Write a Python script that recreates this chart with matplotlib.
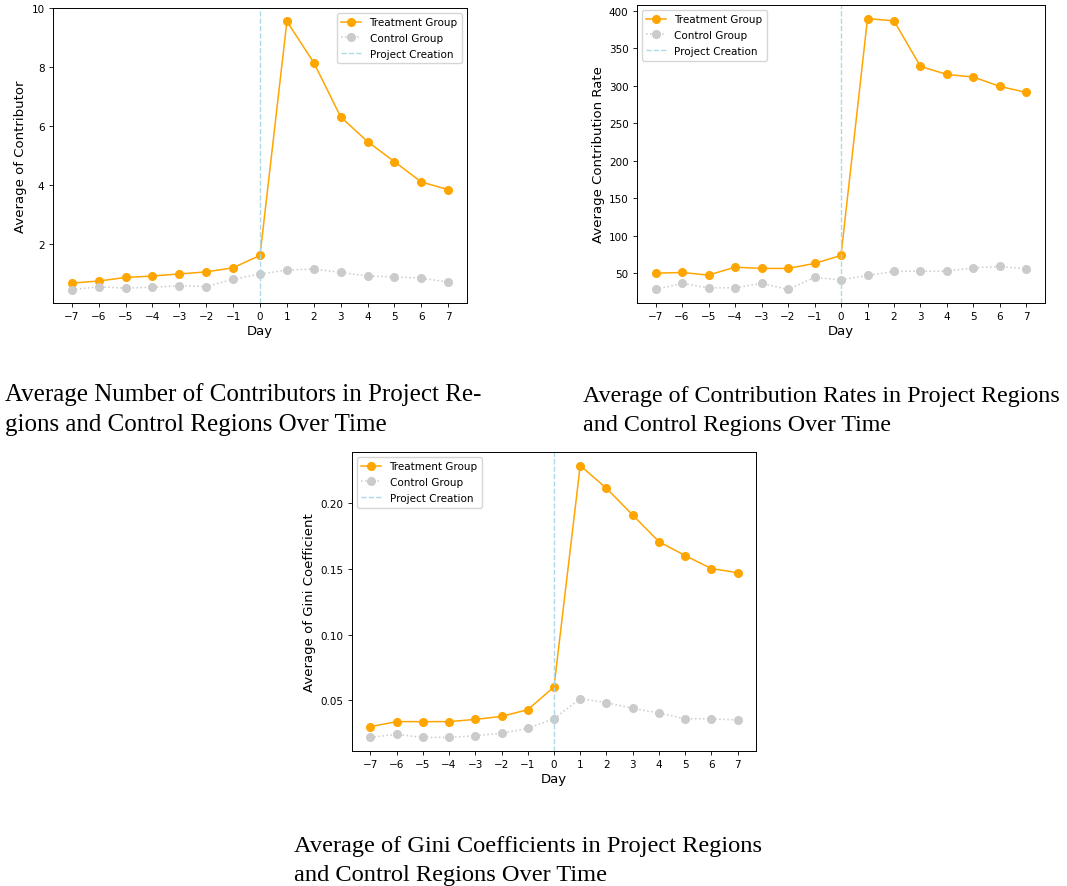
import matplotlib
matplotlib.use('Agg')
import matplotlib.pyplot as plt
import numpy as np

days = list(range(-7, 8))

# average number of contributors
contrib_treat = [0.68, 0.75, 0.87, 0.92, 0.99, 1.06, 1.20, 1.62, 9.56, 8.16, 6.32, 5.48, 4.80, 4.11, 3.85]
contrib_ctrl = [0.46, 0.55, 0.51, 0.54, 0.59, 0.56, 0.81, 0.99, 1.12, 1.16, 1.04, 0.92, 0.89, 0.85, 0.71]

# average contribution rate
rate_treat = [50.4, 51.3, 47.8, 58.4, 56.7, 56.7, 63.3, 74.0, 389.8, 386.7, 326.0, 315.3, 311.8, 299.3, 291.3]
rate_ctrl = [28.7, 36.7, 30.9, 30.9, 36.7, 28.7, 44.7, 41.6, 47.3, 52.7, 53.1, 53.1, 57.5, 59.3, 56.2]

# average gini coefficient
gini_treat = [0.0300, 0.0338, 0.0338, 0.0338, 0.0355, 0.0378, 0.0429, 0.0602, 0.2287, 0.2114, 0.1911, 0.1708, 0.1602, 0.1503, 0.1472]
gini_ctrl = [0.0218, 0.0241, 0.0218, 0.0218, 0.0231, 0.0249, 0.0287, 0.0360, 0.0513, 0.0482, 0.0439, 0.0404, 0.0360, 0.0360, 0.0350]

captions = [
    "Average Number of Contributors in Project Re-\ngions and Control Regions Over Time",
    "Average of Contribution Rates in Project Regions\nand Control Regions Over Time",
    "Average of Gini Coefficients in Project Regions\nand Control Regions Over Time",
]


def draw(ax, treat, ctrl, ylabel, legend_loc):
    ax.plot(days, treat, marker='o', color='orange', linewidth=1.1, markersize=5.5, label='Treatment Group')
    ax.plot(days, ctrl, marker='o', color='#cbcbcb', linestyle=':', linewidth=1.1, markersize=5.5, label='Control Group')
    ax.axvline(0, color='lightblue', linestyle='--', linewidth=1.0, label='Project Creation')
    ax.set_xticks(days)
    ax.tick_params(labelsize=7.5, length=2.6, width=0.6)
    ax.set_xlabel('Day', fontsize=9.5, labelpad=2)
    ax.set_ylabel(ylabel, fontsize=9.5, labelpad=3)
    for s in ax.spines.values():
        s.set_linewidth(0.7)
    ax.legend(loc=legend_loc, fontsize=7.5, framealpha=0.8, borderpad=0.45, labelspacing=0.55,
              handlelength=1.9, borderaxespad=0.45)


fig = plt.figure(figsize=(10.67, 8.87), dpi=100)
ax1 = fig.add_axes([0.0497, 0.6573, 0.388, 0.3326])
ax2 = fig.add_axes([0.597, 0.6573, 0.3824, 0.3359])
ax3 = fig.add_axes([0.3299, 0.1522, 0.3786, 0.3371])

draw(ax1, contrib_treat, contrib_ctrl, 'Average of Contributor', 'upper right')
draw(ax2, rate_treat, rate_ctrl, 'Average Contribution Rate', 'upper left')
draw(ax3, gini_treat, gini_ctrl, 'Average of Gini Coefficient', 'upper left')
ax1.set_yticks([2, 4, 6, 8, 10])
ax3.set_yticks([0.05, 0.10, 0.15, 0.20])

# captions: y is the baseline of the second line
cap_kw = dict(family='Liberation Serif', va='baseline')
fig.text(5 / 1067, 1 - 431 / 887, captions[0], fontsize=18, linespacing=1.45, **cap_kw)
fig.text(583 / 1067, 1 - 431 / 887, captions[1], fontsize=17.3, linespacing=1.5, **cap_kw)
fig.text(294 / 1067, 1 - 881 / 887, captions[2], fontsize=17.6, linespacing=1.48, **cap_kw)

fig.savefig('out.png', dpi=100)
